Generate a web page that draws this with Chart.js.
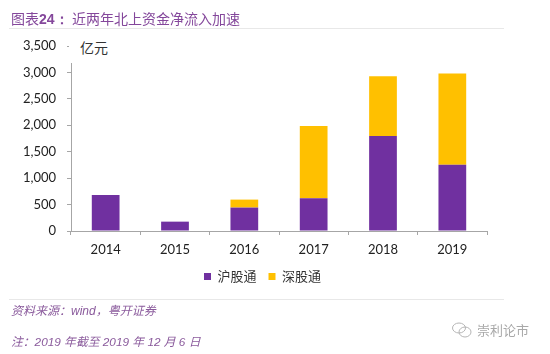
<!DOCTYPE html>
<html>
<head>
<meta charset="utf-8">
<script src="https://cdn.jsdelivr.net/npm/chart.js@4/dist/chart.umd.min.js"></script>
<style>
  html, body { margin: 0; padding: 0; background: #fff; }
  #wrap { position: relative; width: 550px; height: 354px; overflow: hidden; font-family: "Noto Sans CJK SC", sans-serif; }
  #wrap div { position: absolute; white-space: nowrap; }
  .note { color: #8a5a9c; font-style: italic; left: 11px; font-family: "Liberation Sans", "Noto Sans CJK SC", sans-serif; }
  .rule { height: 1px; background: #e8e8e8; }
</style>
</head>
<body>
<div id="wrap">
  <canvas id="flow" width="550" height="354"></canvas>
  <div style="left:11px;top:8px;font-size:14px;line-height:20px;color:#84479b">图表<b style="font-family:'Liberation Sans'">24：</b></div>
  <div style="left:72px;top:8px;font-size:14px;line-height:20px;color:#84479b">近两年北上资金净流入加速</div>
  <div class="rule" style="left:9px;top:28px;width:495px"></div>
  <div style="left:69px;top:36px;width:50px;height:27px;background:#fff"></div>
  <div style="left:80px;top:37px;font-size:14px;line-height:20px;color:#333">亿元</div>
  <div class="rule" style="left:9px;top:299px;width:495px"></div>
  <div class="note" style="top:303px;line-height:16px;font-size:12px">资料来源：wind，粤开证券</div>
  <div class="note" style="top:334px;line-height:16px;font-size:11.8px">注：2019 年截至 2019 年 12 月 6 日</div>
  <svg style="position:absolute;left:451px;top:321px" width="22" height="18" fill="none" stroke="#b5b5b5"><ellipse cx="8" cy="7" rx="6.5" ry="5"/><ellipse cx="14" cy="11" rx="6" ry="5"/></svg>
  <div style="left:477px;top:321px;font-size:13px;line-height:18px;color:#a8a8a8">崇利论市</div>
</div>
<script>
const years = ['2014', '2015', '2016', '2017', '2018', '2019'];
const shanghai = [680, 177, 443, 620, 1798, 1253];
const shenzhen = [0, 0, 151, 1367, 1132, 1728];

const axisGrey = '#a6a6a6';
const labelFont = { family: 'Lato', size: 13 };

// moves the legend a bit left of the plot centre, like the original
const shiftLegend = {
  id: 'shiftLegend',
  afterLayout(chart) {
    chart.legend.right += 38;
  }
};

new Chart(document.getElementById('flow'), {
  type: 'bar',
  data: {
    labels: years,
    datasets: [
      { label: '沪股通', data: shanghai, backgroundColor: '#7030a0' },
      { label: '深股通', data: shenzhen, backgroundColor: '#ffc000' }
    ]
  },
  options: {
    responsive: false,
    animation: false,
    layout: { padding: { top: 46, right: 63, bottom: 61 } },
    categoryPercentage: 0.4,
    barPercentage: 1,
    scales: {
      x: {
        stacked: true,
        afterFit(scale) { scale.height = 27; },
        border: { color: axisGrey },
        grid: { drawOnChartArea: false, tickLength: 4, color: axisGrey },
        ticks: { color: '#222', font: labelFont, padding: 7, maxRotation: 0 }
      },
      y: {
        stacked: true,
        min: 0,
        max: 3500,
        afterFit(scale) { scale.width = 71; },
        border: { color: axisGrey },
        grid: { drawOnChartArea: false, tickLength: 4, color: axisGrey },
        ticks: {
          stepSize: 500,
          color: '#222',
          font: labelFont,
          padding: 11,
          callback: v => v.toLocaleString('en-US')
        }
      }
    },
    plugins: {
      tooltip: { enabled: false },
      legend: {
        position: 'bottom',
        labels: {
          boxWidth: 7,
          boxHeight: 7,
          padding: 12,
          color: '#333',
          font: { family: '"Noto Sans CJK SC"', size: 13 }
        }
      }
    }
  },
  plugins: [shiftLegend]
});
</script>
</body>
</html>
